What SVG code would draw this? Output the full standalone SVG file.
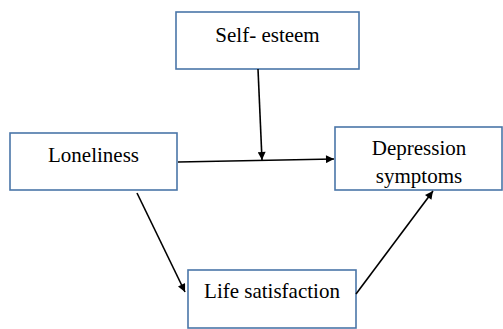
<svg xmlns="http://www.w3.org/2000/svg" width="503" height="329" viewBox="0 0 503 329">
<style>
.box{fill:#fff;stroke:#4a76a8;stroke-width:1.6}
.t{font-family:"Liberation Serif","Times New Roman",serif;font-size:21px;fill:#000;text-anchor:middle}
.c{stroke:#000;stroke-width:1.6;fill:none;marker-end:url(#ah)}
</style>
<defs>
<marker id="ah" viewBox="0 0 10 10" refX="10" refY="5" markerWidth="9" markerHeight="8" markerUnits="userSpaceOnUse" orient="auto">
<path d="M0,0 L10,5 L0,10 z" fill="#000"/>
</marker>
</defs>
<rect width="503" height="329" fill="#fff"/>
<g id="self-esteem"><rect class="box" x="176" y="12" width="183" height="57"/><text class="t" x="267.5" y="42">Self- esteem</text></g>
<g id="loneliness"><rect class="box" x="10" y="133" width="167" height="57"/><text class="t" x="93.5" y="162">Loneliness</text></g>
<g id="depression"><rect class="box" x="335" y="127" width="167" height="63"/><text class="t" x="419" y="155">Depression</text><text class="t" x="419" y="183">symptoms</text></g>
<g id="life-satisfaction"><rect class="box" x="188" y="270" width="168" height="58"/><text class="t" x="272" y="298">Life satisfaction</text></g>
<g id="connectors">
<line class="c" x1="258" y1="69" x2="262" y2="160"/>
<line class="c" x1="178" y1="162" x2="334" y2="159"/>
<line class="c" x1="137" y1="193" x2="185" y2="292"/>
<line class="c" x1="356" y1="294" x2="433" y2="191"/>
</g>
</svg>
